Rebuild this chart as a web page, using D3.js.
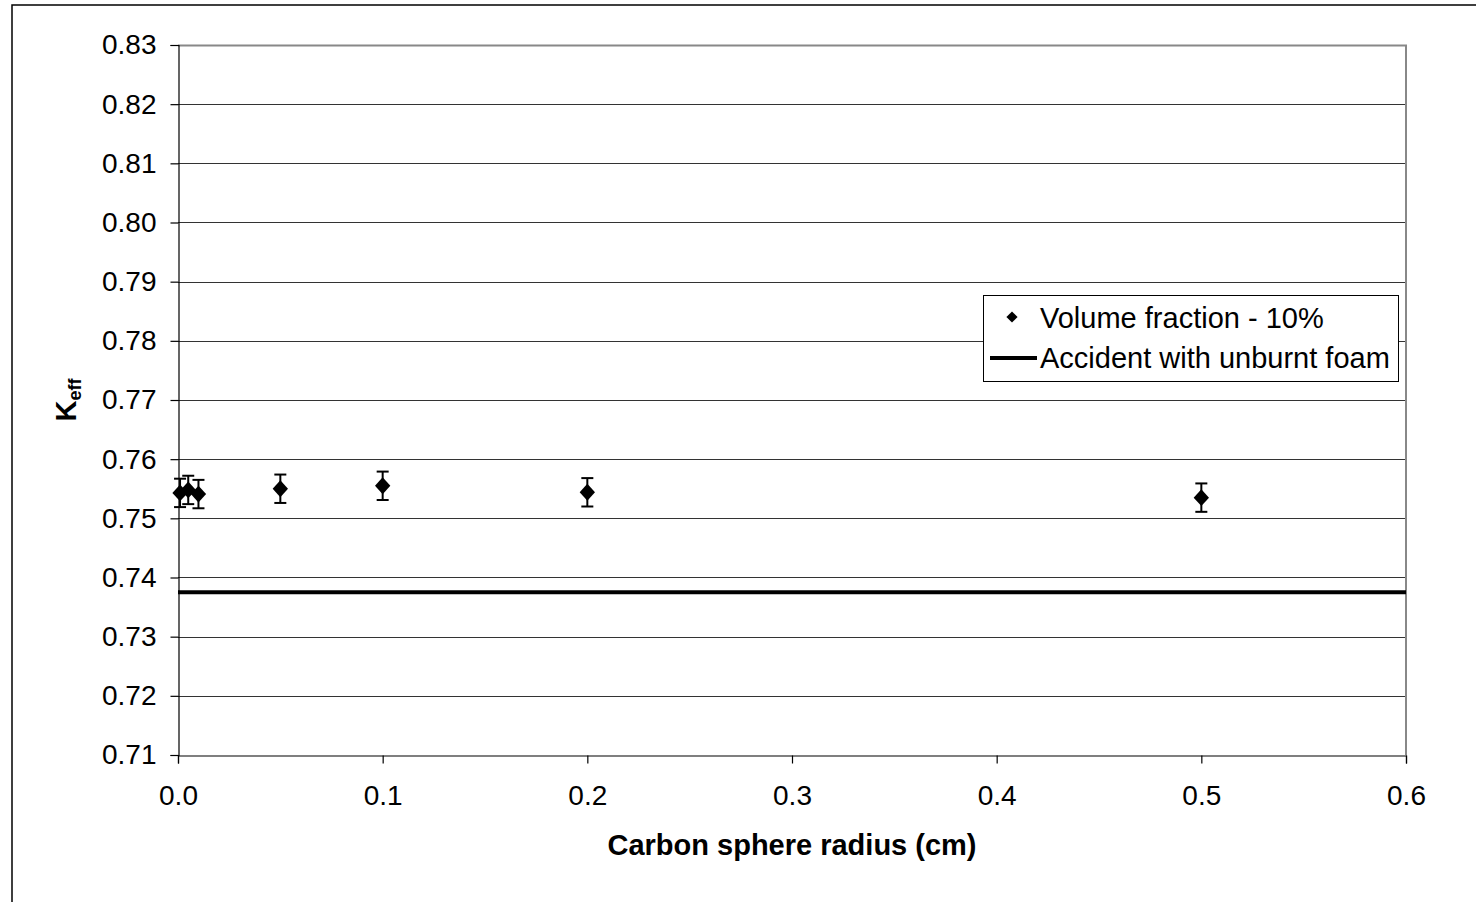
<!DOCTYPE html>
<html>
<head>
<meta charset="utf-8">
<script src="https://cdn.jsdelivr.net/npm/d3@7"></script>
<style>
  body { margin: 0; background: #fff; }
  svg { display: block; font-family: "Liberation Sans", Arial, sans-serif; }
</style>
</head>
<body>
<svg id="chart"></svg>
<script>
// data
const radii = [0.001, 0.005, 0.01, 0.05, 0.1, 0.2, 0.5];
const keff = [0.7543, 0.7548, 0.7541, 0.7550, 0.7555, 0.7544, 0.7535];
const keffErr = [0.0024, 0.0024, 0.0024, 0.0024, 0.0024, 0.0024, 0.0024];
const accidentKeff = 0.7375;
const xTicks = [0, 0.1, 0.2, 0.3, 0.4, 0.5, 0.6];
const yTicks = [0.71, 0.72, 0.73, 0.74, 0.75, 0.76, 0.77, 0.78, 0.79, 0.80, 0.81, 0.82, 0.83];
const legendLabels = ["Volume fraction - 10%", "Accident with unburnt foam"];

const width = 1476, height = 902;
const margin = { top: 45, right: 70, bottom: 147, left: 178 };

const svg = d3.select("#chart").attr("width", width).attr("height", height);

// outer frame (runs off the right and bottom edge)
svg.append("rect")
  .attr("x", 12).attr("y", 5)
  .attr("width", width + 20).attr("height", height + 20)
  .attr("fill", "none").attr("stroke", "#000").attr("stroke-width", 1.5);

const x = d3.scaleLinear().domain([0, 0.6]).range([margin.left, width - margin.right]);
const y = d3.scaleLinear().domain([0.71, 0.83]).range([height - margin.bottom, margin.top]);

// gridlines
svg.append("g")
  .selectAll("line")
  .data(yTicks.slice(1))
  .join("line")
  .attr("x1", x(0)).attr("x2", x(0.6))
  .attr("y1", d => Math.round(y(d)) + 0.5).attr("y2", d => Math.round(y(d)) + 0.5)
  .attr("stroke", "#333").attr("stroke-width", 1.2);

// plot border top and right (grey)
svg.append("path")
  .attr("d", `M${x(0)},${y(0.83) + 0.5}H${x(0.6)}V${y(0.71)}`)
  .attr("fill", "none").attr("stroke", "#888").attr("stroke-width", 2);

// axes
const xAxis = svg.append("g")
  .attr("transform", `translate(0,${Math.round(y(0.71)) + 0.5})`)
  .call(d3.axisBottom(x).tickValues(xTicks).tickFormat(d3.format(".1f")).tickSize(8).tickPadding(22));

const yAxis = svg.append("g")
  .attr("transform", `translate(${Math.round(x(0)) + 0.5},0)`)
  .call(d3.axisLeft(y).tickValues(yTicks).tickFormat(d3.format(".2f")).tickSize(8).tickPadding(14));

[xAxis, yAxis].forEach(a => {
  a.select(".domain").attr("stroke", "#000").attr("stroke-width", 1.2);
  a.selectAll(".tick line").attr("stroke", "#000").attr("stroke-width", 1.2);
  a.selectAll("text").attr("font-size", 28).attr("fill", "#000")
    .attr("font-family", "'Liberation Sans', Arial, sans-serif");
});
xAxis.selectAll("text").attr("dy", "0.71em");

// axis titles
svg.append("text")
  .attr("x", (x(0) + x(0.6)) / 2).attr("y", 855)
  .attr("text-anchor", "middle")
  .attr("font-size", 29).attr("font-weight", "bold")
  .text("Carbon sphere radius (cm)");

const yTitle = svg.append("text")
  .attr("transform", `translate(76,${(y(0.71) + y(0.83)) / 2}) rotate(-90)`)
  .attr("text-anchor", "middle")
  .attr("font-size", 29).attr("font-weight", "bold");
yTitle.append("tspan").text("K");
yTitle.append("tspan").attr("font-size", 18).attr("dy", 5).text("eff");

// accident line
svg.append("line")
  .attr("x1", x(0)).attr("x2", x(0.6))
  .attr("y1", y(accidentKeff)).attr("y2", y(accidentKeff))
  .attr("stroke", "#000").attr("stroke-width", 4);

// error bars
const points = radii.map((r, i) => ({ r: r, k: keff[i], e: keffErr[i] }));
const bars = svg.append("g").attr("stroke", "#000").attr("stroke-width", 2);
points.forEach(p => {
  bars.append("line")
    .attr("x1", x(p.r)).attr("x2", x(p.r))
    .attr("y1", y(p.k - p.e)).attr("y2", y(p.k + p.e));
  [p.k - p.e, p.k + p.e].forEach(v => {
    bars.append("line")
      .attr("x1", x(p.r) - 6).attr("x2", x(p.r) + 6)
      .attr("y1", y(v)).attr("y2", y(v));
  });
});

// diamond markers
const diamond = d3.symbol().type(d3.symbolDiamond2).size(150);
svg.append("g")
  .selectAll("path")
  .data(points)
  .join("path")
  .attr("d", diamond)
  .attr("transform", d => `translate(${x(d.r)},${y(d.k)}) scale(1,1.1)`)
  .attr("fill", "#000");

// legend
const legend = svg.append("g").attr("transform", "translate(983,295)");
legend.append("rect")
  .attr("x", 0.5).attr("y", 0.5).attr("width", 415).attr("height", 86)
  .attr("fill", "#fff").attr("stroke", "#000").attr("stroke-width", 1);
legend.append("path")
  .attr("d", d3.symbol().type(d3.symbolDiamond2).size(80))
  .attr("transform", "translate(29,22)")
  .attr("fill", "#000");
legend.append("line")
  .attr("x1", 7).attr("x2", 54).attr("y1", 63).attr("y2", 63)
  .attr("stroke", "#000").attr("stroke-width", 4);
legend.selectAll("text.lbl")
  .data(legendLabels)
  .join("text")
  .attr("class", "lbl")
  .attr("x", 57)
  .attr("y", (d, i) => 33 + i * 40)
  .attr("font-size", 29)
  .text(d => d);
</script>
</body>
</html>
